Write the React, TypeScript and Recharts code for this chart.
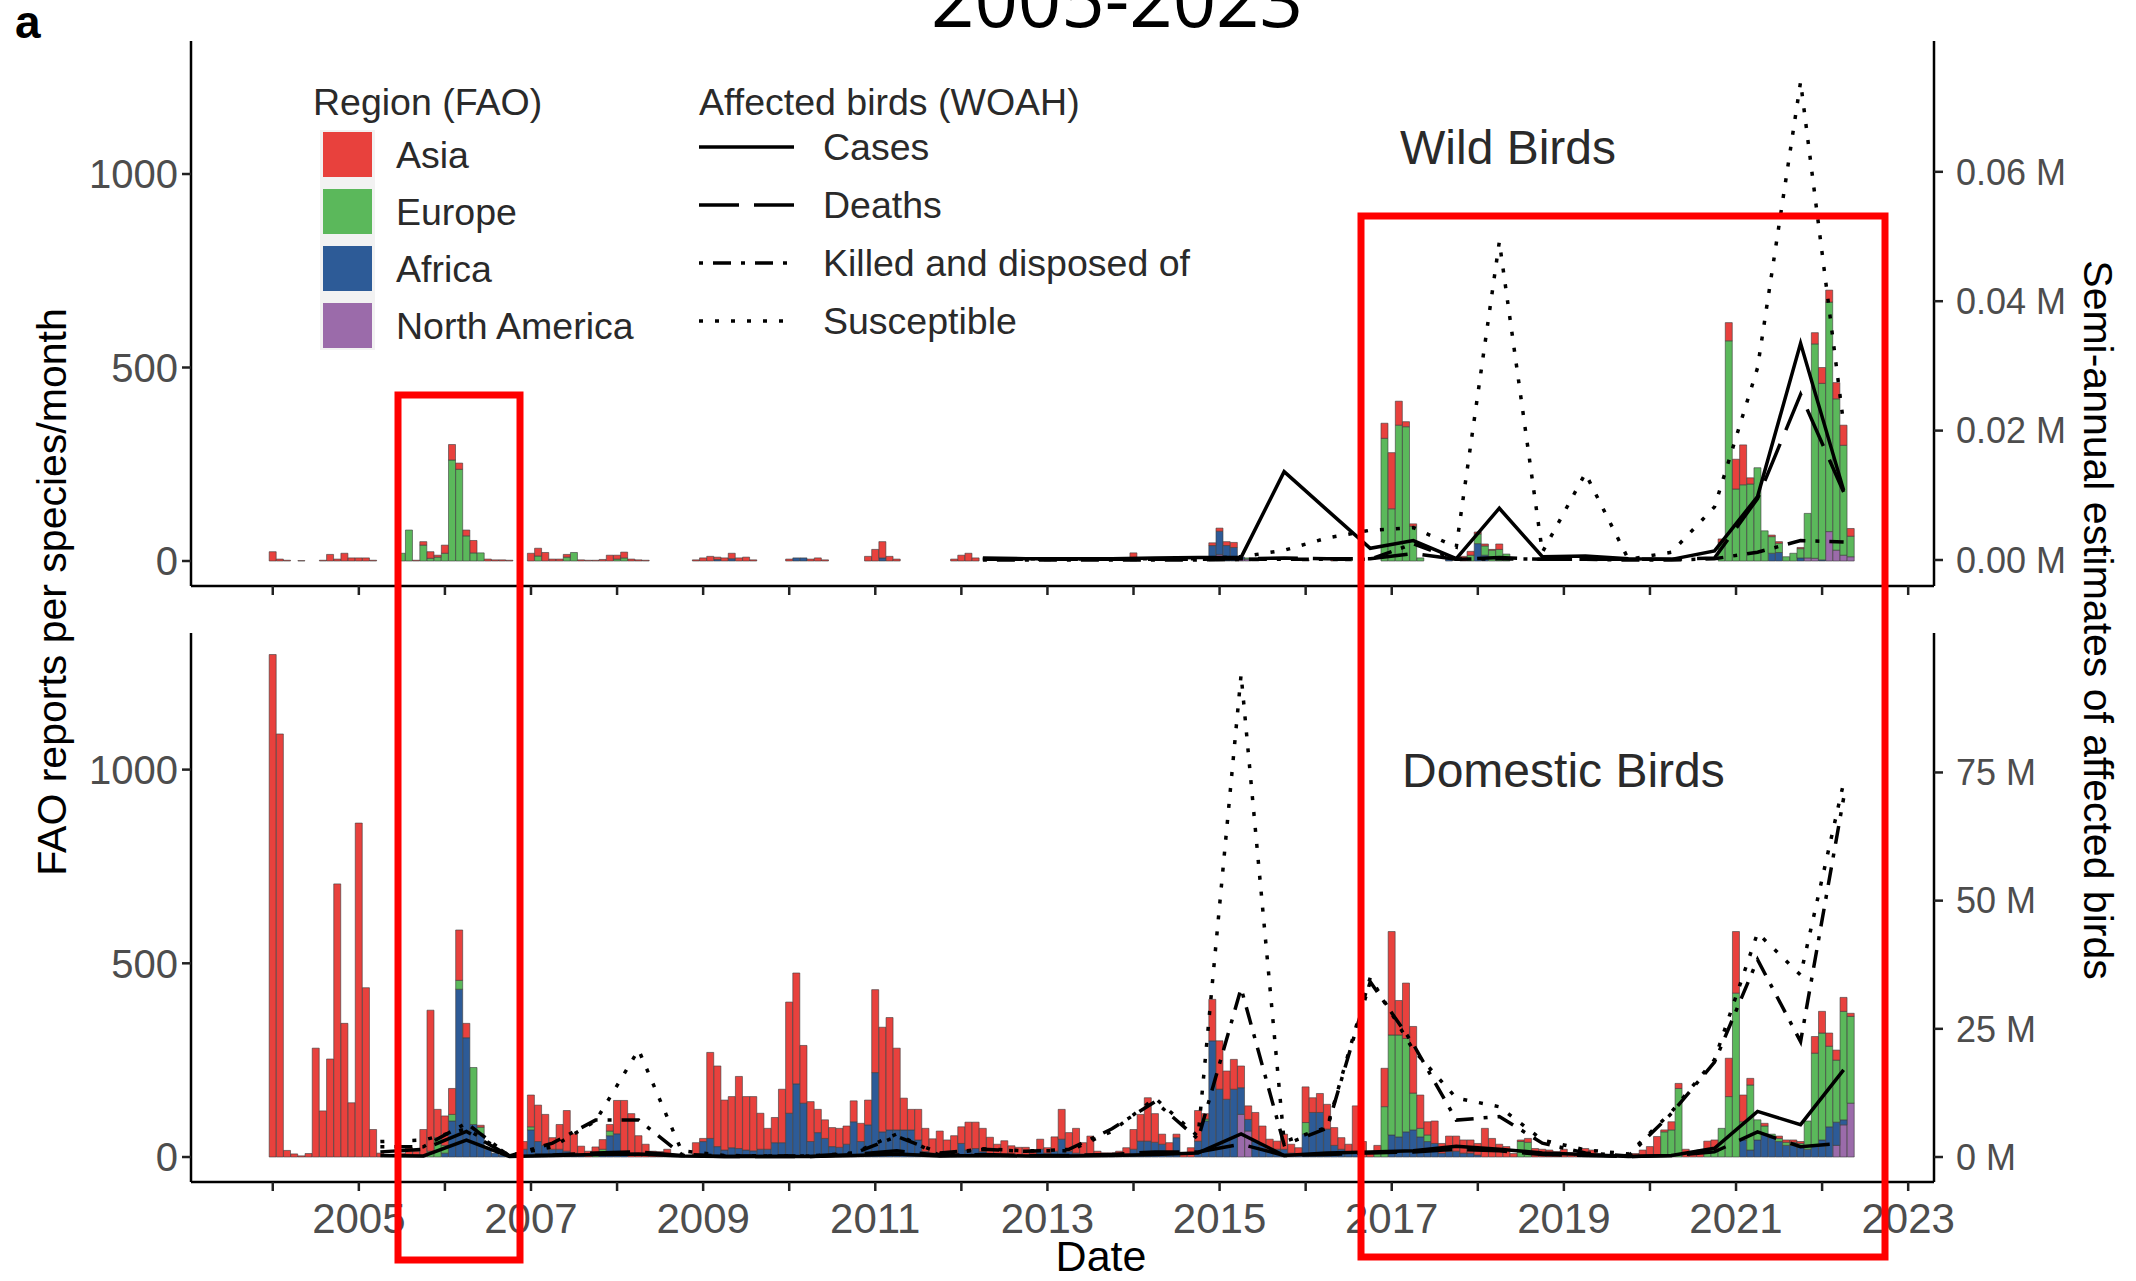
import React from 'react'
import { ComposedChart, Bar, Line, XAxis, YAxis } from 'recharts'

const FONT = '"Liberation Sans", Arial, Helvetica, sans-serif'
const FIRST_YEAR = 2004
const YEAR_TICKS = [2004, 2005, 2006, 2007, 2008, 2009, 2010, 2011, 2012, 2013, 2014, 2015, 2016, 2017, 2018, 2019, 2020, 2021, 2022, 2023]
const Z = [0, 0, 0, 0, 0, 0, 0, 0, 0, 0, 0, 0]

// FAO reports per species/month, Jan 2004 .. May 2022 (12 values per row = one year)
const domAsia = [
  1297, 1092, 17, 8, 3, 9, 281, 119, 253, 705, 345, 140,
  862, 437, 71, 10, 5, 5, 10, 24, 15, 71, 364, 73,
  76, 67, 130, 37, 0, 5, 0, 0, 0, 3, 8, 20,
  82, 94, 80, 30, 64, 105, 50, 23, 15, 21, 25, 17,
  86, 136, 112, 55, 33, 15, 14, 20, 3, 3, 3, 32,
  8, 222, 208, 129, 132, 186, 138, 140, 93, 54, 65, 138,
  287, 286, 149, 103, 60, 48, 49, 49, 47, 54, 47, 64,
  214, 270, 290, 211, 82, 53, 79, 60, 37, 57, 36, 47,
  43, 72, 68, 60, 43, 28, 37, 29, 25, 25, 14, 26,
  14, 37, 77, 48, 64, 29, 46, 15, 11, 11, 15, 16,
  51, 69, 112, 74, 26, 27, 9, 7, 24, 79, 14, 107,
  125, 73, 77, 56, 35, 75, 50, 26, 21, 39, 23, 16,
  92, 38, 49, 64, 46, 30, 23, 122, 40, 10, 20, 99,
  267, 89, 143, 172, 86, 34, 58, 25, 39, 39, 34, 34,
  30, 74, 48, 33, 27, 9, 4, 10, 22, 20, 18, 14,
  20, 11, 9, 22, 18, 9, 5, 5, 5, 7, 9, 18,
  27, 53, 5, 21, 13, 20, 14, 18, 31, 24, 0, 99,
  159, 69, 17, 0, 7, 0, 6, 6, 6, 5, 0, 43,
  56, 34, 26, 36, 8,
]
const domEurope = [
  ...Z,
  0, 0, 0, 0, 0, 0, 0, 0, 0, 0, 15, 50,
  20, 17, 23, 0, 147, 17, 0, 0, 0, 0, 0, 0,
  8, 0, 0, 0, 0, 0, 0, 0, 0, 5, 10, 12,
  ...Z, ...Z, ...Z, ...Z, ...Z, ...Z,
  0, 0, 0, 0, 0, 0, 0, 0, 0, 0, 5, 0,
  ...Z,
  30, 0, 0, 0, 0, 0, 0, 0, 0, 0, 10, 130,
  258, 263, 241, 95, 22, 17, 0, 0, 0, 0, 0, 0,
  0, 0, 0, 0, 0, 0, 40, 38, 0, 0, 0, 0,
  ...Z,
  0, 0, 65, 70, 177, 0, 0, 0, 10, 20, 74, 156,
  423, 47, 168, 52, 20, 9, 8, 8, 8, 10, 73, 237,
  276, 208, 160, 280, 224,
]
const domAfrica = [
  ...Z, ...Z,
  10, 93, 433, 308, 84, 60, 20, 10, 5, 0, 0, 20,
  70, 40, 30, 20, 20, 15, 10, 5, 0, 0, 10, 55,
  60, 10, 0, 0, 0, 0, 0, 0, 0, 0, 0, 5,
  40, 48, 27, 18, 24, 22, 18, 16, 20, 20, 37, 37,
  113, 189, 139, 40, 63, 48, 27, 25, 33, 91, 40, 83,
  218, 65, 70, 70, 70, 70, 44, 14, 10, 10, 8, 8,
  35, 18, 22, 14, 8, 5, 5, 0, 0, 0, 0, 20,
  10, 15, 46, 15, 10, 8, 8, 0, 0, 0, 0, 8,
  20, 41, 41, 38, 33, 10, 50, 0, 0, 41, 93, 300,
  175, 149, 175, 69, 30, 40, 30, 20, 20, 20, 10, 8,
  59, 115, 115, 72, 30, 20, 10, 10, 0, 0, 0, 0,
  57, 52, 65, 70, 52, 40, 35, 10, 15, 15, 10, 10,
  5, 0, 0, 0, 0, 0, 0, 0, 0, 0, 0, 0,
  ...Z, ...Z,
  0, 44, 18, 44, 60, 50, 40, 30, 30, 25, 20, 31,
  44, 78, 60, 13, 0,
]
const domNAmerica = [
  ...Z, ...Z, ...Z, ...Z, ...Z, ...Z, ...Z, ...Z, ...Z, ...Z, ...Z,
  0, 0, 0, 110, 67, 0, 0, 0, 0, 0, 0, 0,
  ...Z, ...Z, ...Z, ...Z, ...Z, ...Z,
  0, 0, 30, 83, 139,
]

const wildAsia = [
  24, 5, 2, 0, 1, 0, 0, 2, 17, 5, 20, 8,
  8, 8, 2, 0, 0, 0, 0, 0, 2, 9, 17, 5,
  21, 40, 16, 15, 32, 0, 5, 3, 3, 2, 0, 0,
  20, 20, 22, 5, 5, 7, 0, 3, 2, 2, 4, 15,
  10, 15, 5, 3, 2, 0, 0, 0, 0, 0, 0, 3,
  8, 12, 6, 8, 14, 8, 10, 3, 0, 0, 0, 0,
  5, 0, 0, 5, 8, 3, 0, 0, 0, 0, 0, 12,
  30, 42, 12, 5, 0, 0, 0, 0, 0, 0, 0, 5,
  15, 20, 8, 0, 0, 0, 0, 0, 0, 0, 0, 0,
  8, 0, 0, 0, 0, 0, 0, 0, 0, 0, 0, 0,
  21, 0, 0, 0, 0, 0, 0, 0, 0, 0, 0, 7,
  8, 10, 13, 0, 0, 0, 0, 0, 0, 0, 0, 0,
  3, 0, 0, 0, 3, 0, 0, 0, 0, 0, 0, 39,
  145, 62, 13, 6, 0, 0, 0, 0, 0, 0, 12, 10,
  5, 5, 2, 14, 0, 0, 0, 0, 0, 0, 0, 0,
  ...Z,
  0, 0, 0, 0, 0, 0, 0, 0, 0, 0, 9, 47,
  77, 103, 16, 0, 0, 4, 4, 0, 0, 3, 0, 29,
  41, 31, 42, 52, 20,
]
const wildEurope = [
  ...Z,
  0, 0, 0, 0, 0, 0, 20, 80, 0, 41, 7, 10,
  20, 261, 237, 65, 21, 21, 0, 0, 0, 0, 0, 0,
  0, 13, 0, 0, 0, 10, 22, 0, 0, 0, 0, 0,
  5, 8, 0, 0, 0, 0, 0, 0, 0, 0, 0, 0,
  ...Z, ...Z, ...Z, ...Z, ...Z, ...Z,
  0, 0, 0, 0, 3, 4, 0, 0, 0, 0, 0, 0,
  0, 0, 0, 0, 0, 0, 5, 0, 0, 0, 0, 317,
  135, 351, 347, 90, 8, 0, 0, 0, 0, 0, 0, 15,
  25, 24, 28, 30, 18, 0, 0, 0, 0, 0, 0, 0,
  ...Z,
  0, 0, 0, 0, 0, 0, 0, 0, 0, 0, 48, 569,
  186, 197, 199, 241, 78, 43, 24, 11, 20, 24, 115, 554,
  456, 593, 391, 284, 53,
]
const wildAfrica = [
  ...Z, ...Z, ...Z, ...Z, ...Z,
  0, 0, 4, 0, 6, 0, 0, 0, 0, 0, 0, 0,
  0, 8, 8, 0, 0, 0, 0, 0, 0, 0, 0, 0,
  0, 8, 0, 0, 0, 0, 0, 0, 0, 0, 0, 0,
  ...Z, ...Z,
  0, 0, 0, 0, 0, 0, 0, 0, 0, 0, 0, 35,
  60, 40, 35, 5, 0, 0, 0, 0, 0, 0, 0, 0,
  ...Z,
  0, 0, 0, 0, 0, 0, 0, 0, 8, 0, 0, 0,
  45, 15, 0, 0, 0, 0, 0, 0, 0, 0, 0, 0,
  ...Z, ...Z,
  0, 0, 0, 0, 0, 20, 22, 0, 0, 8, 0, 0,
  3, 0, 0, 0, 0,
]
const wildNAmerica = [
  ...Z, ...Z, ...Z, ...Z, ...Z, ...Z, ...Z, ...Z, ...Z, ...Z,
  0, 0, 0, 0, 0, 0, 0, 0, 0, 0, 0, 5,
  17, 0, 0, 5, 5, 4, 0, 0, 0, 0, 0, 0,
  ...Z, ...Z, ...Z, ...Z, ...Z,
  0, 0, 0, 0, 0, 0, 0, 0, 0, 0, 8, 7,
  0, 76, 28, 15, 11,
]

// WOAH semi-annual estimates (millions), one value per half year
const DOM_LINE_START = 2005.25
const domCases = [0.3, 0.2, 3.3, 0.1, 0.3, 0.5, 0.6, 0.2, 0.1, 0.1, 0.1, 0.3, 0.6, 0.2, 0.3, 0.2, 0.2, 0.3, 0.5, 0.8, 4.5, 0.3, 0.8, 1.0, 1.2, 2.1, 1.5, 0.8, 0.5, 0.1, 0.3, 1.7, 8.9, 6.3, 17]
const domDeaths = [1.0, 1.5, 5.0, 0.2, 0.4, 0.8, 1.0, 0.3, 0.1, 0.1, 0.1, 0.5, 1.2, 0.3, 0.5, 0.3, 0.3, 0.5, 1.0, 1.0, 2.5, 0.3, 0.5, 0.8, 1.0, 1.5, 1.2, 0.5, 0.3, 0.1, 0.3, 1.0, 4.9, 2.0, 2.7]
const domKilled = [2.0, 2.0, 6.6, 0.2, 2.7, 7.2, 7.2, 0.5, 0.2, 0.2, 0.2, 0.7, 4.0, 0.8, 1.5, 1.1, 1.5, 5.5, 10.8, 3.5, 32.9, 2.4, 5.6, 34.2, 22.0, 7.2, 7.9, 2.7, 0.8, 0.2, 8.5, 18.5, 38.5, 22.5, 70]
const domSusceptible = [3.0, 3.3, 5.5, 0.3, 2.0, 7.0, 20.9, 1.2, 0.3, 0.2, 0.2, 0.8, 4.5, 0.3, 1.6, 1.2, 1.2, 5.0, 11.5, 4.0, 94.1, 3.0, 5.8, 35.0, 20.9, 11.5, 9.8, 3.3, 1.4, 0.6, 8.8, 19.0, 43.7, 35.5, 73]

const WILD_LINE_START = 2012.25
const wildCases = [0.0003, 0.0002, 0.0002, 0.0002, 0.0003, 0.0004, 0.0004, 0.01365, 0.0077, 0.0018, 0.003, 0.0002, 0.008, 0.0005, 0.0006, 0.0002, 0.0001, 0.0014, 0.0098, 0.0335, 0.0108]
const wildDeaths = [0.0001, 0.0001, 0.0001, 0.0001, 0.0001, 0.0001, 0.0002, 0.0003, 0.0002, 0.0002, 0.001, 0.0001, 0.0004, 0.0001, 0.0001, 0.0001, 0.0001, 0.0003, 0.0095, 0.0256, 0.0105]
const wildKilled = [0, 0, 0, 0, 0, 0, 0.0001, 0.0001, 0.0001, 0.0001, 0.0025, 0.0001, 0.0002, 0.0001, 0.0001, 0, 0, 0.0002, 0.0012, 0.003, 0.0028]
const wildSusceptible = [0.0002, 0.0002, 0.0002, 0.0002, 0.0002, 0.0002, 0.0005, 0.0015, 0.0034, 0.0046, 0.005, 0.002, 0.0492, 0.0012, 0.0134, 0.0001, 0.0012, 0.0082, 0.0297, 0.0739, 0.021]

const ASIA = '#E8413D'
const EUROPE = '#5BB85B'
const AFRICA = '#2D5B97'
const NAMERICA = '#9B6BAA'
const EDGE = '#3a3a3a'

const DASH_DEATHS = '40 15'
const DASH_KILLED = '4 10 18 10'
const DASH_SUSC = '4 12'

type Row = Record<string, number | undefined>

function buildRows(
  asia: number[], europe: number[], africa: number[], nam: number[],
  lineStart: number, cases: number[], deaths: number[], killed: number[], susc: number[],
): Row[] {
  const first = Math.round((lineStart - FIRST_YEAR) * 12)
  return asia.map((_, k) => {
    const row: Row = { x: FIRST_YEAR + k / 12, asia: asia[k], europe: europe[k], africa: africa[k], nam: nam[k] }
    const off = k - first
    if (off >= 0 && off % 6 === 0 && off / 6 < cases.length) {
      const i = off / 6
      row.cases = cases[i]
      row.deaths = deaths[i]
      row.killed = killed[i]
      row.susc = susc[i]
    }
    return row
  })
}

const wildRows = buildRows(wildAsia, wildEurope, wildAfrica, wildNAmerica, WILD_LINE_START, wildCases, wildDeaths, wildKilled, wildSusceptible)
const domRows = buildRows(domAsia, domEurope, domAfrica, domNAmerica, DOM_LINE_START, domCases, domDeaths, domKilled, domSusceptible)

const axisLine = { stroke: '#000', strokeWidth: 2.5 }
const tickLine = { stroke: '#222', strokeWidth: 2.5 }

interface PanelProps {
  rows: Row[]
  top: number
  height: number
  marginTop: number
  leftDomain: [number, number]
  rightDomain: [number, number]
  rightTicks: number[]
  rightFmt: (v: number) => string
  showYears: boolean
}

function Panel({ rows, top, height, marginTop, leftDomain, rightDomain, rightTicks, rightFmt, showYears }: PanelProps) {
  return (
    <div style={{ position: 'absolute', left: 0, top }}>
      <ComposedChart width={2136} height={height} data={rows} margin={{ top: marginTop, right: 0, bottom: 0, left: 0 }} barGap={0} barCategoryGap={0}>
        <XAxis
          dataKey="x"
          type="number"
          domain={[2003.05, 2023.3]}
          ticks={YEAR_TICKS}
          allowDataOverflow
          interval={0}
          tickSize={9}
          tickMargin={12}
          axisLine={axisLine}
          tickLine={tickLine}
          tick={{ fill: '#4d4d4d', fontSize: 42, fontFamily: FONT }}
          tickFormatter={(v: number) => (showYears && v % 2 === 1 ? String(v) : '')}
          height={height - marginTop - (showYears ? 549 : 545)}
        />
        <YAxis
          yAxisId="l"
          width={191}
          domain={leftDomain}
          ticks={[0, 500, 1000]}
          allowDataOverflow
          interval={0}
          tickSize={9}
          tickMargin={4}
          axisLine={axisLine}
          tickLine={tickLine}
          tick={{ fill: '#4d4d4d', fontSize: 40, fontFamily: FONT }}
        />
        <YAxis
          yAxisId="r"
          orientation="right"
          width={202}
          domain={rightDomain}
          ticks={rightTicks}
          allowDataOverflow
          interval={0}
          tickSize={9}
          tickMargin={13}
          axisLine={axisLine}
          tickLine={tickLine}
          tickFormatter={rightFmt}
          tick={{ fill: '#4d4d4d', fontSize: 36, fontFamily: FONT }}
        />
        <Bar yAxisId="l" dataKey="nam" stackId="s" fill={NAMERICA} stroke={EDGE} strokeWidth={0.6} barSize={7} isAnimationActive={false} />
        <Bar yAxisId="l" dataKey="africa" stackId="s" fill={AFRICA} stroke={EDGE} strokeWidth={0.6} barSize={7} isAnimationActive={false} />
        <Bar yAxisId="l" dataKey="europe" stackId="s" fill={EUROPE} stroke={EDGE} strokeWidth={0.6} barSize={7} isAnimationActive={false} />
        <Bar yAxisId="l" dataKey="asia" stackId="s" fill={ASIA} stroke={EDGE} strokeWidth={0.6} barSize={7} isAnimationActive={false} />
        <Line yAxisId="r" dataKey="susc" stroke="#000" strokeWidth={3.5} strokeDasharray={DASH_SUSC} dot={false} connectNulls isAnimationActive={false} />
        <Line yAxisId="r" dataKey="killed" stroke="#000" strokeWidth={3.5} strokeDasharray={DASH_KILLED} dot={false} connectNulls isAnimationActive={false} />
        <Line yAxisId="r" dataKey="deaths" stroke="#000" strokeWidth={3.5} strokeDasharray={DASH_DEATHS} dot={false} connectNulls isAnimationActive={false} />
        <Line yAxisId="r" dataKey="cases" stroke="#000" strokeWidth={3.5} dot={false} connectNulls isAnimationActive={false} />
      </ComposedChart>
    </div>
  )
}

const regions = [
  { name: 'Asia', color: ASIA },
  { name: 'Europe', color: EUROPE },
  { name: 'Africa', color: AFRICA },
  { name: 'North America', color: NAMERICA },
]
const lineKeys = [
  { name: 'Cases', dash: undefined },
  { name: 'Deaths', dash: DASH_DEATHS },
  { name: 'Killed and disposed of', dash: DASH_KILLED },
  { name: 'Susceptible', dash: DASH_SUSC },
]

function Overlay() {
  const txt = { fontFamily: FONT, fill: '#2a2a2a' }
  return (
    <svg width={2136} height={1281} style={{ position: 'absolute', left: 0, top: 0, pointerEvents: 'none' }}>
      <text x={1117} y={27} textAnchor="middle" fontSize={76} fontFamily='"Open Sans", Arial, sans-serif' fill="#000">2005-2023</text>
      <text x={15} y={38} fontSize={46} fontWeight="bold" fontFamily={FONT} fill="#000">a</text>

      <text x={313} y={115} fontSize={37.5} {...txt}>Region (FAO)</text>
      <rect x={320} y={130} width={55} height={220} fill="#f2f2f2" />
      {regions.map((r, i) => (
        <g key={r.name}>
          <rect x={323} y={132 + i * 57} width={49} height={45} fill={r.color} />
          <text x={396} y={168 + i * 57} fontSize={37.5} {...txt}>{r.name}</text>
        </g>
      ))}

      <text x={699} y={115} fontSize={37.5} {...txt}>Affected birds (WOAH)</text>
      {lineKeys.map((l, i) => (
        <g key={l.name}>
          <line x1={699} x2={794} y1={147 + i * 58} y2={147 + i * 58} stroke="#000" strokeWidth={3.5} strokeDasharray={l.dash} />
          <text x={823} y={160 + i * 58} fontSize={37.5} {...txt}>{l.name}</text>
        </g>
      ))}

      <text x={1400} y={164} fontSize={48} {...txt}>Wild Birds</text>
      <text x={1402} y={787} fontSize={48} {...txt}>Domestic Birds</text>

      <text transform="translate(66,592) rotate(-90)" textAnchor="middle" fontSize={41} fontFamily={FONT} fill="#000">FAO reports per species/month</text>
      <text transform="translate(2084,620) rotate(90)" textAnchor="middle" fontSize={41} fontFamily={FONT} fill="#000">Semi-annual estimates of affected birds</text>
      <text x={1101} y={1271} textAnchor="middle" fontSize={43} fontFamily={FONT} fill="#000">Date</text>

      <rect x={398} y={395} width={122} height={865} fill="none" stroke="#FF0000" strokeWidth={7} />
      <rect x={1361} y={216} width={524} height={1041} fill="none" stroke="#FF0000" strokeWidth={7} />
    </svg>
  )
}

export default function App() {
  return (
    <div style={{ position: 'absolute', left: 0, top: 0, width: 2136, height: 1281, background: '#fff' }}>
      <Panel
        rows={wildRows}
        top={0}
        height={640}
        marginTop={41}
        leftDomain={[-64.6, 1343.7]}
        rightDomain={[-0.00402, 0.08022]}
        rightTicks={[0, 0.02, 0.04, 0.06]}
        rightFmt={(v: number) => `${v.toFixed(2)} M`}
        showYears={false}
      />
      <Panel
        rows={domRows}
        top={600}
        height={680}
        marginTop={33}
        leftDomain={[-64.5, 1352.6]}
        rightDomain={[-4.875, 102.2]}
        rightTicks={[0, 25, 50, 75]}
        rightFmt={(v: number) => `${v} M`}
        showYears
      />
      <Overlay />
    </div>
  )
}
